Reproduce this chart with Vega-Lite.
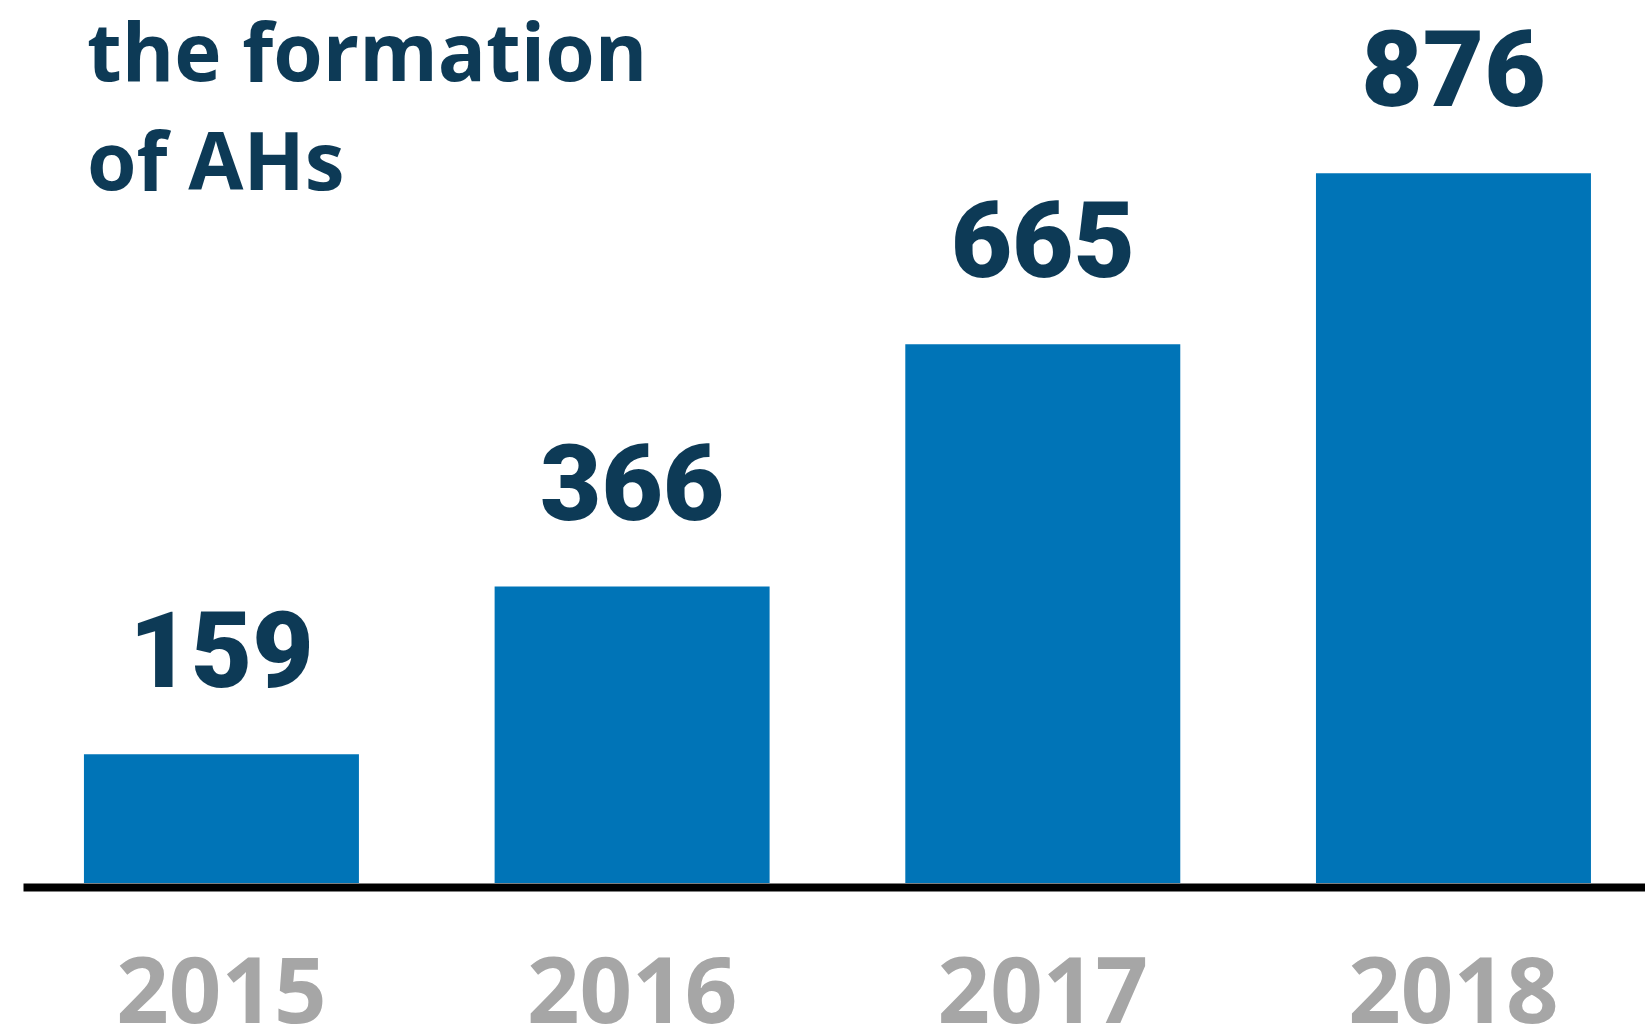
{
  "$schema": "https://vega.github.io/schema/vega-lite/v6.json",
  "width": 1622,
  "height": 883,
  "autosize": {"type": "none"},
  "padding": {"left": 23, "top": 0, "right": 0, "bottom": 143},
  "background": "white",
  "title": {
    "text": ["the formation", "of AHs"],
    "anchor": "start",
    "frame": "group",
    "orient": "top",
    "baseline": "top",
    "dx": 64,
    "offset": -207,
    "font": "Open Sans",
    "fontWeight": "bold",
    "fontSize": 80,
    "lineHeight": 109,
    "color": "#0d3a56"
  },
  "data": {
    "values": [
      {"year": "2015", "value": 159},
      {"year": "2016", "value": 366},
      {"year": "2017", "value": 665},
      {"year": "2018", "value": 876}
    ]
  },
  "encoding": {
    "x": {
      "field": "year",
      "type": "ordinal",
      "title": null,
      "scale": {"paddingInner": 0.3304, "paddingOuter": 0.14, "align": 0.53},
      "axis": {
        "domainColor": "#000000",
        "domainWidth": 8,
        "offset": 4,
        "ticks": false,
        "tickSize": 0,
        "labelAngle": 0,
        "labelLimit": 0,
        "labelFont": "Open Sans",
        "labelFontWeight": "bold",
        "labelFontSize": 92,
        "labelColor": "#a6a6a6",
        "labelBaseline": "alphabetic",
        "labelPadding": 135
      }
    },
    "y": {
      "field": "value",
      "type": "quantitative",
      "scale": {"domain": [0, 1090], "nice": false},
      "axis": null
    }
  },
  "layer": [
    {"mark": {"type": "bar", "color": "#0074b7"}},
    {
      "mark": {
        "type": "text",
        "dy": -67,
        "baseline": "alphabetic",
        "align": "center",
        "font": "Roboto",
        "fontWeight": 900,
        "fontSize": 106,
        "color": "#0d3a56"
      },
      "encoding": {"text": {"field": "value", "type": "quantitative"}}
    }
  ],
  "config": {"view": {"stroke": null}}
}
